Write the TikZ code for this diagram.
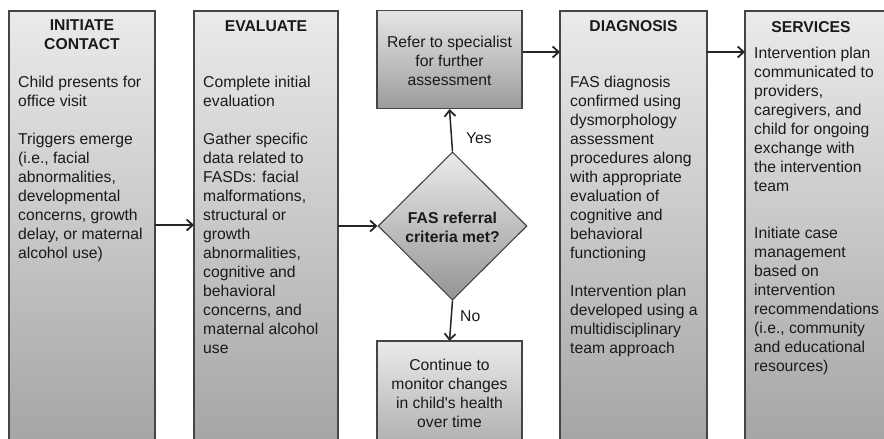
\documentclass[tikz,border=0pt]{standalone}
\usepackage{fontspec}
\setmainfont{Liberation Sans}
\usetikzlibrary{arrows.meta,shapes.geometric}
\definecolor{edge}{HTML}{454545}
\definecolor{ink}{HTML}{1A1A1A}
\begin{document}
\begin{tikzpicture}[x=1pt,y=-1pt,
  phase/.style={draw=edge, line width=1.1pt, top color=black!8, bottom color=black!37},
  smallbox/.style={draw=edge, line width=1.1pt, top color=black!10, bottom color=black!39},
  head/.style={font=\fontsize{15.7}{19}\selectfont\bfseries, text=ink, anchor=base, inner sep=0pt, align=center},
  body/.style={font=\fontsize{15.7}{19}\selectfont, text=ink, anchor=base west, inner sep=0pt, align=left},
  ctext/.style={font=\fontsize{15.7}{19}\selectfont, text=ink, anchor=base, inner sep=0pt, align=center},
  lbl/.style={font=\fontsize{15.7}{19}\selectfont, text=ink, anchor=base west, inner sep=0pt},
  flow/.style={line width=1.5pt, black!85, -{Straight Barb[length=6pt,width=11pt,line width=1.8pt]}}
]
\useasboundingbox (0,0) rectangle (884,439);
\clip (0,0) rectangle (884,439);

% tall phase boxes
\path[phase] (9,11) rectangle (155,470);
\path[phase] (194,11) rectangle (338,470);
\path[phase] (560,11) rectangle (707,470);
\path[phase] (745,11) rectangle (900,470);

% named anchors on the tall boxes
\coordinate (c1e) at (155,225);
\coordinate (c2w) at (194,225);
\coordinate (c2e) at (338,226);
\coordinate (c3w) at (560,52);
\coordinate (c3e) at (707,52);
\coordinate (c4w) at (745,52);

% small boxes
\node[smallbox, minimum width=145pt, minimum height=98pt, inner sep=0pt] (refer) at (449.5,59.5) {};
\path[phase] (377,341) rectangle (522,470);
\coordinate (contn) at (449.5,341);

% decision diamond
\node[diamond, draw=edge, line width=1.1pt, top color=black!8, bottom color=black!42,
      minimum width=149pt, minimum height=148pt, inner sep=0pt, aspect=1] (dec) at (452.5,226) {};

% texts (base anchor = baseline of the last line)
\node[head] (h1) at (82,49) {INITIATE\\CONTACT};
\node[body] (t1) at (18,258) {Child presents for\\office visit\\[19pt]Triggers emerge\\(i.e., facial\\abnormalities,\\developmental\\concerns, growth\\delay, or maternal\\alcohol use)};

\node[head] (h2) at (266,31) {EVALUATE};
\node[body] (t2) at (203,353) {Complete initial\\evaluation\\[19pt]Gather specific\\data related to\\FASDs: facial\\malformations,\\structural or\\growth\\abnormalities,\\cognitive and\\behavioral\\concerns, and\\maternal alcohol\\use};

\node[ctext] (rt) at (449.5,85) {Refer to specialist\\for further\\assessment};
\node[head] (dt) at (452.5,242) {FAS referral\\criteria met?};
\node[ctext] (ct) at (449.5,427) {Continue to\\monitor changes\\in child\textquotesingle s health\\over time};

\node[head] (h3) at (633.5,31) {DIAGNOSIS};
\node[body] (t3) at (570,353) {FAS diagnosis\\confirmed using\\dysmorphology\\assessment\\procedures along\\with appropriate\\evaluation of\\cognitive and\\behavioral\\functioning\\[19pt]Intervention plan\\developed using a\\multidisciplinary\\team approach};

\node[head] (h4) at (811,32) {SERVICES};
\node[body] (t4) at (754,371) {Intervention plan\\communicated to\\providers,\\caregivers, and\\child for ongoing\\exchange with\\the intervention\\team\\[28pt]Initiate case\\management\\based on\\intervention\\recommendations\\(i.e., community\\and educational\\resources)};

% connectors
\draw[flow] (c1e) -- (c2w);
\draw[flow] (c2e) -- (dec.west);
\draw[flow] (refer.east |- c3w) -- (c3w);
\draw[flow] (c3e) -- (c4w);
\draw[flow] (dec.north) -- (refer.south);
\draw[flow] (dec.south) -- (contn);

\node[lbl] (yes) at (466,143) {Yes};
\node[lbl] (no) at (460,321) {No};
\end{tikzpicture}
\end{document}
